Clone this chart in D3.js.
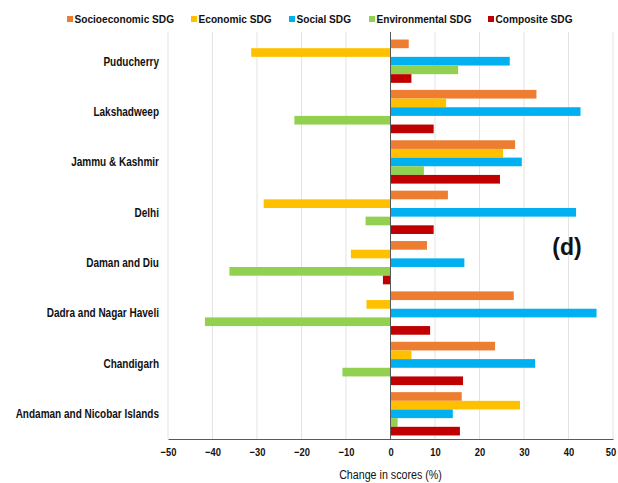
<!DOCTYPE html>
<html>
<head>
<meta charset="utf-8">
<script src="https://cdn.jsdelivr.net/npm/d3@7/dist/d3.min.js"></script>
<style>
  html, body { margin: 0; padding: 0; background: #fff; }
  svg { display: block; font-family: "Liberation Sans", Arial, Helvetica, sans-serif; }
</style>
</head>
<body>
<svg id="chart" width="618" height="483"></svg>
<script>
// Union territories, top to bottom
const categories = [
  "Puducherry",
  "Lakshadweep",
  "Jammu & Kashmir",
  "Delhi",
  "Daman and Diu",
  "Dadra and Nagar Haveli",
  "Chandigarh",
  "Andaman and Nicobar Islands"
];

const seriesNames = ["Socioeconomic SDG", "Economic SDG", "Social SDG", "Environmental SDG", "Composite SDG"];

// Change in scores (%) for each series, in category order
const socioeconomic = [4.1, 32.8, 28.0, 12.9, 8.2, 27.7, 23.5, 16.0];
const economic      = [-31.3, 12.5, 25.3, -28.5, -8.9, -5.4, 4.7, 29.1];
const social        = [26.8, 42.7, 29.5, 41.7, 16.6, 46.3, 32.5, 14.0];
const environmental = [15.2, -21.6, 7.5, -5.6, -36.2, -41.7, -10.8, 1.6];
const composite     = [4.7, 9.7, 24.6, 9.7, -1.7, 8.9, 16.3, 15.6];

const tickValues = [-50, -40, -30, -20, -10, 0, 10, 20, 30, 40, 50];

const seriesValues = [socioeconomic, economic, social, environmental, composite];
const colors = ["#ED7D31", "#FFC000", "#00B0F0", "#92D050", "#C00000"];

const svg = d3.select("#chart");

const plot = { left: 168, right: 613, top: 36, bottom: 439 };

const x = d3.scaleLinear().domain([-50, 50]).range([plot.left, plot.right]);
const y = d3.scaleBand().domain(categories).range([plot.top, plot.bottom])
  .paddingInner(0.14).paddingOuter(0.07);
const ySub = d3.scaleBand().domain(seriesNames).range([0, y.bandwidth()]);

// squeeze text horizontally to get a condensed look
function condense(sel, k) {
  sel.each(function () {
    const w = this.getComputedTextLength();
    d3.select(this).attr("textLength", w * k).attr("lengthAdjust", "spacingAndGlyphs");
  });
}

// vertical gridlines
svg.append("g")
  .selectAll("line")
  .data(tickValues)
  .join("line")
  .attr("x1", d => x(d)).attr("x2", d => x(d))
  .attr("y1", 32).attr("y2", plot.bottom)
  .attr("stroke", "#e3e3e3")
  .attr("stroke-width", 1);

// bars
const rows = categories.map((c, i) => ({
  cat: c,
  vals: seriesNames.map((s, j) => ({ s, v: seriesValues[j][i], color: colors[j] }))
}));

svg.append("g")
  .selectAll("g")
  .data(rows)
  .join("g")
  .attr("transform", d => `translate(0,${y(d.cat)})`)
  .selectAll("rect")
  .data(d => d.vals)
  .join("rect")
  .attr("x", d => x(Math.min(0, d.v)))
  .attr("width", d => Math.abs(x(d.v) - x(0)))
  .attr("y", d => ySub(d.s))
  .attr("height", ySub.bandwidth())
  .attr("fill", d => d.color);

// zero line
svg.append("line")
  .attr("x1", x(0)).attr("x2", x(0))
  .attr("y1", 32).attr("y2", plot.bottom)
  .attr("stroke", "#595959").attr("stroke-width", 1);

// x axis
const xAxis = svg.append("g")
  .attr("transform", `translate(0,${plot.bottom})`)
  .call(d3.axisBottom(x).tickValues(tickValues).tickSize(0).tickPadding(9).tickFormat(d3.format("d")));
xAxis.select(".domain").attr("stroke", "#595959").attr("stroke-width", 1.2);
xAxis.selectAll("text")
  .attr("font-size", 11)
  .attr("font-weight", "bold")
  .attr("fill", "#111")
  .attr("font-family", "'Liberation Sans', Arial, sans-serif")
  .call(condense, 0.85);
// keep the last tick label inside the frame
xAxis.selectAll(".tick").filter(d => d === 50).select("text").attr("dx", -2.5);

// axis title
svg.append("text")
  .attr("x", x(0)).attr("y", 479)
  .attr("text-anchor", "middle")
  .attr("font-size", 12)
  .attr("fill", "#111")
  .text("Change in scores (%)")
  .call(condense, 0.89);

// category labels
svg.append("g")
  .selectAll("text")
  .data(categories)
  .join("text")
  .attr("x", 159)
  .attr("y", d => y(d) + y.bandwidth() / 2)
  .attr("dy", "0.35em")
  .attr("text-anchor", "end")
  .attr("font-size", 12.5)
  .attr("font-weight", "bold")
  .attr("fill", "#111")
  .text(d => d)
  .call(condense, 0.80);

// legend
const legendX = [67, 191, 289, 369, 488];
const legend = svg.append("g")
  .selectAll("g")
  .data(seriesNames)
  .join("g")
  .attr("transform", (d, i) => `translate(${legendX[i]},19)`);
legend.append("rect")
  .attr("x", 0).attr("y", -3)
  .attr("width", 6).attr("height", 6)
  .attr("fill", (d, i) => colors[i]);
legend.append("text")
  .attr("x", 7.5).attr("y", 0)
  .attr("dy", "0.35em")
  .attr("font-size", 11.5)
  .attr("font-weight", "bold")
  .attr("fill", "#111")
  .text(d => d)
  .call(condense, 0.88);

// panel tag
svg.append("text")
  .attr("x", 567).attr("y", 247)
  .attr("dy", "0.35em")
  .attr("text-anchor", "middle")
  .attr("font-size", 23)
  .attr("font-weight", "bold")
  .attr("fill", "#111")
  .text("(d)");
</script>
</body>
</html>
